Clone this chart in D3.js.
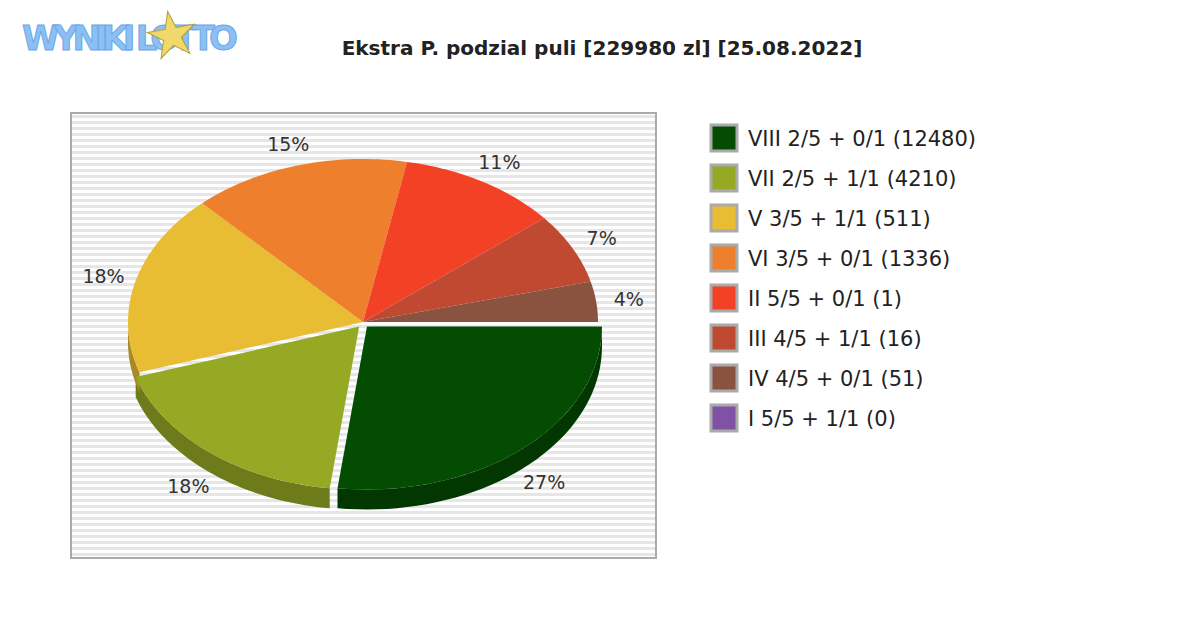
<!DOCTYPE html>
<html><head><meta charset="utf-8">
<script src="https://cdn.jsdelivr.net/npm/d3@7"></script>
<style>body{margin:0;background:#fff}</style>
</head><body>
<div id="chart"></div>
<script>
// chart data
var labels = ["VIII 2/5 + 0/1 (12480)", "VII 2/5 + 1/1 (4210)", "V 3/5 + 1/1 (511)", "VI 3/5 + 0/1 (1336)",
  "II 5/5 + 0/1 (1)", "III 4/5 + 1/1 (16)", "IV 4/5 + 0/1 (51)", "I 5/5 + 1/1 (0)"];
var shares = [27, 18, 18, 15, 11, 7, 4, 0];
var colors = ["#034c02", "#96a924", "#e8bd33", "#ee7f2c", "#f24125", "#c04a31", "#8a533f", "#7f52a5"];
var explode = [6, 6, 0, 0, 0, 0, 0, 0];

var width = 1200, height = 630;
var svg = d3.select("#chart").append("svg").attr("width", width).attr("height", height)
  .style("font-family", "DejaVu Sans");

// logo
var logo = svg.append("g");
logo.append("text").attr("x", 22).attr("y", 50).text("WYNIKI LOTTO")
  .attr("font-size", 34).attr("font-weight", "bold").attr("fill", "#8cc0f4")
  .attr("stroke", "#6aa6e6").attr("stroke-width", 1).attr("textLength", 216);
var star = d3.symbol().type(d3.symbolStar).size(700);
logo.append("path").attr("d", star()).attr("transform", "translate(172,36) rotate(-10)")
  .attr("fill", "#f0d86a").attr("stroke", "#b59a3a");

// title
svg.append("text").attr("x", 602).attr("y", 55).attr("text-anchor", "middle")
  .attr("font-size", 20).attr("font-weight", "bold").attr("fill", "#222")
  .text("Ekstra P. podzial puli [229980 zl] [25.08.2022]");

// plot background with stripes
var px = 71, py = 113, pw = 585, ph = 445;
svg.append("rect").attr("x", px).attr("y", py).attr("width", pw).attr("height", ph).attr("fill", "#fff");
d3.range(py + 2, py + ph, 6).forEach(function (y) {
  svg.append("rect").attr("x", px).attr("y", y).attr("width", pw).attr("height", 3).attr("fill", "#e6e6e6");
});
svg.append("rect").attr("x", px).attr("y", py).attr("width", pw).attr("height", ph)
  .attr("fill", "none").attr("stroke", "#aaa").attr("stroke-width", 2);

// pie
var cx = 363, cy = 322, rx = 235, ry = 163, depth = 20;
var arcs = d3.pie().sort(null).startAngle(Math.PI / 2).endAngle(Math.PI * 2.5)(shares);
function pt(a, r, dx, dy) { return [cx + dx + rx * r * Math.cos(a), cy + dy + ry * r * Math.sin(a)]; }
function offs(d, i) {
  var m = (d.startAngle + d.endAngle) / 2 - Math.PI / 2;
  return [explode[i] * Math.cos(m), explode[i] * Math.sin(m)];
}
var sideG = svg.append("g"), topG = svg.append("g"), labG = svg.append("g");
arcs.forEach(function (d, i) {
  if (d.value <= 0) return;
  var a0 = d.startAngle - Math.PI / 2, a1 = d.endAngle - Math.PI / 2;
  var o = offs(d, i);
  // side wall for visible (front) part
  var s0 = Math.max(a0, 0), s1 = Math.min(a1, Math.PI);
  if (s1 > s0) {
    var n = 40, p = [];
    for (var k = 0; k <= n; k++) p.push(pt(s0 + (s1 - s0) * k / n, 1, o[0], o[1]));
    for (var k = n; k >= 0; k--) p.push(pt(s0 + (s1 - s0) * k / n, 1, o[0], o[1] + depth));
    sideG.append("path").attr("d", d3.line()(p) + "Z")
      .attr("fill", d3.color(colors[i]).darker(0.9));
  }
  var q = [[cx + o[0], cy + o[1]]];
  var m = Math.max(8, Math.ceil((a1 - a0) * 40));
  for (var k = 0; k <= m; k++) q.push(pt(a0 + (a1 - a0) * k / m, 1, o[0], o[1]));
  topG.append("path").attr("d", d3.line()(q) + "Z").attr("fill", colors[i]);
  var mid = (a0 + a1) / 2;
  var lp = pt(mid, 1.14, o[0], o[1] + (Math.sin(mid) > 0 ? depth * 0.8 : 0));
  labG.append("text").attr("x", lp[0]).attr("y", lp[1] + 7).attr("text-anchor", "middle")
    .attr("font-size", 19).attr("fill", "#333").text(d.value + "%");
});

// legend
var leg = svg.append("g").attr("transform", "translate(710,124)");
labels.forEach(function (t, i) {
  var g = leg.append("g").attr("transform", "translate(0," + i * 40 + ")");
  g.append("rect").attr("x", 1).attr("y", 1).attr("width", 26).attr("height", 26)
    .attr("fill", colors[i]).attr("stroke", "#aaa").attr("stroke-width", 3);
  g.append("text").attr("x", 38).attr("y", 22).attr("font-size", 21).attr("fill", "#222").text(t);
});
</script>
</body></html>
